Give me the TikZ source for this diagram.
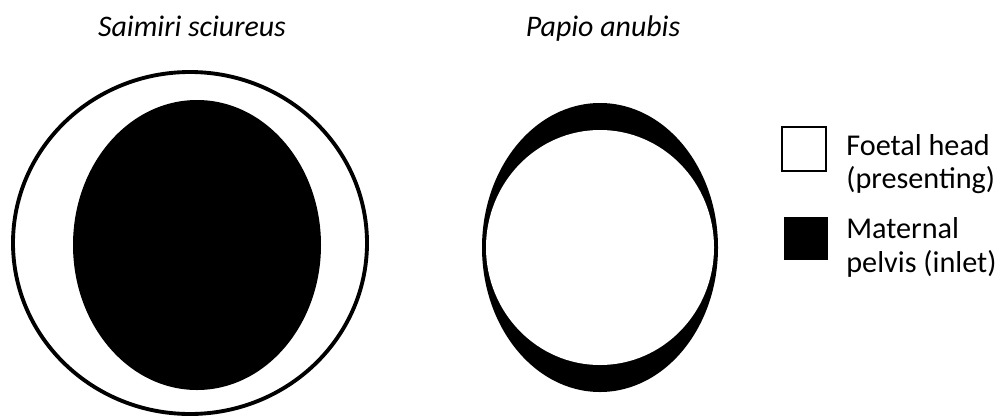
\documentclass[tikz,border=0pt]{standalone}
\usepackage{fontspec}
\setmainfont{Carlito}
\usetikzlibrary{positioning}
\begin{document}
\begin{tikzpicture}[
    x=0.02cm, y=-0.02cm,
    title/.style={font=\fontsize{17}{20}\selectfont\itshape, anchor=base, inner sep=0pt},
    keytext/.style={font=\fontsize{17.2}{20}\selectfont, anchor=base west, inner sep=0pt, align=left},
    keybox/.style={rectangle, minimum size=0.87cm, inner sep=0pt},
    rim/.style={draw=black, line width=2.2pt}
]
    \useasboundingbox (0,0) rectangle (1000,416);

    % Titles
    \node[title] (ttlS) at (192,36) {Saimiri sciureus};
    \node[title] (ttlP) at (603,36) {Papio anubis};

    % Saimiri sciureus: head larger than inlet
    \draw[rim, fill=white] (190,243) ellipse [x radius=177, y radius=171];
    \fill[black] (197,245) ellipse [x radius=124, y radius=145];

    % Papio anubis: inlet larger than head
    \fill[black] (600,247.5) ellipse [x radius=118, y radius=144.5];
    \fill[white] (600,247.5) ellipse [x radius=114, y radius=117.5];

    % Legend
    \node[keybox, draw=black, line width=1.3pt, fill=white] (keyhead) at (804,149) {};
    \node[keybox, fill=black] (keypelvis) at (806,238.5) {};
    \node[keytext] (txthead) at (846,155) {Foetal head};
    \node[keytext] (txthead2) at (846,188) {(presenting)};
    \node[keytext] (txtpelvis) at (846,238) {Maternal};
    \node[keytext] (txtpelvis2) at (846,272) {pelvis (inlet)};
\end{tikzpicture}
\end{document}
